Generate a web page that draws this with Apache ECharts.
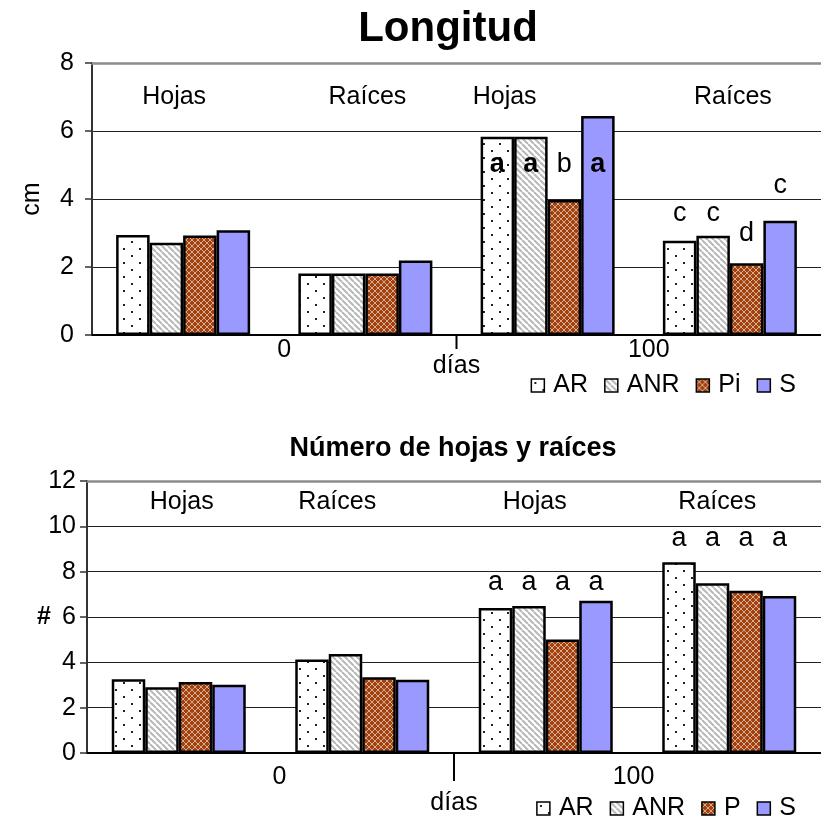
<!DOCTYPE html>
<html><head><meta charset="utf-8">
<script src="https://cdn.jsdelivr.net/npm/echarts@6/dist/echarts.min.js"></script>
<style>html,body{margin:0;padding:0;background:#fff}#c{width:821px;height:822px}</style>
</head><body><div id="c"></div>
<script>
// ---------- data ----------
const categories = ['Hojas', 'Raíces', 'Hojas', 'Raíces'];
const dayLabels = ['0', '100'];
const topTitle = 'Longitud';
const bottomTitle = 'Número de hojas y raíces';
const topSeriesNames = ['AR', 'ANR', 'Pi', 'S'];
const bottomSeriesNames = ['AR', 'ANR', 'P', 'S'];
const topYTicks = [0, 8, 2];      // min, max, interval
const bottomYTicks = [0, 12, 2];

const lenAR  = [2.94, 1.81, 5.83, 2.77];
const lenANR = [2.71, 1.81, 5.83, 2.92];
const lenPi  = [2.93, 1.81, 3.97, 2.11];
const lenS   = [3.08, 2.19, 6.44, 3.36];

const numAR  = [3.25, 4.13, 6.40, 8.41];
const numANR = [2.90, 4.37, 6.48, 7.49];
const numP   = [3.13, 3.34, 5.01, 7.16];
const numS   = [3.01, 3.23, 6.72, 6.93];

// significance letters and the value level where each letter sits
const lenLetAR  = ['', '', 'a', 'c'];  const lenLvlAR  = [null, null, 5.00, 3.57];
const lenLetANR = ['', '', 'a', 'c'];  const lenLvlANR = [null, null, 5.00, 3.57];
const lenLetPi  = ['', '', 'b', 'd'];  const lenLvlPi  = [null, null, 5.00, 2.98];
const lenLetS   = ['', '', 'a', 'c'];  const lenLvlS   = [null, null, 5.00, 4.39];

const numLetAR  = ['', '', 'a', 'a'];  const numLvlAR  = [null, null, 7.54, 9.48];
const numLetANR = ['', '', 'a', 'a'];  const numLvlANR = [null, null, 7.54, 9.48];
const numLetP   = ['', '', 'a', 'a'];  const numLvlP   = [null, null, 7.54, 9.48];
const numLetS   = ['', '', 'a', 'a'];  const numLvlS   = [null, null, 7.54, 9.48];

// ---------- patterns ----------
function tile(w, h, draw) {
  const c = document.createElement('canvas'); c.width = w; c.height = h;
  const g = c.getContext('2d'); draw(g, w, h); return c;
}
const dotTile = tile(16, 14, (g, w, h) => {
  g.fillStyle = '#fff'; g.fillRect(0, 0, w, h);
  g.fillStyle = '#222'; g.fillRect(3, 3, 2, 2); g.fillRect(11, 10, 2, 2);
});
const stripeTile = tile(6, 6, (g, w, h) => {
  g.fillStyle = '#fff'; g.fillRect(0, 0, w, h);
  g.strokeStyle = '#b8b8b8'; g.lineWidth = 2;
  for (let k = -6; k <= 6; k += 6) { g.beginPath(); g.moveTo(k, 0); g.lineTo(k + 6, 6); g.stroke(); }
});
const crossTile = tile(6, 6, (g, w, h) => {
  g.fillStyle = '#a2400f'; g.fillRect(0, 0, w, h);
  g.fillStyle = '#d7ad92';
  for (let i = 0; i < 6; i++) { g.fillRect(i, i, 1, 1); g.fillRect(5 - i, i, 1, 1); }
});
const fills = [
  { image: dotTile, repeat: 'repeat' },
  { image: stripeTile, repeat: 'repeat' },
  { image: crossTile, repeat: 'repeat' },
  '#9999ff'
];

// ---------- layout (styles only) ----------
const FONT = 'Liberation Sans, Arial, sans-serif';
const BAR_W = 33.5;
const topLabelShift = [-9, 2, -43, 3];
const bottomLabelShift = [3, -25, -11, -12];
const topDayShift = [10, 10];
const bottomDayShift = [9, -4];

function shiftPad(d) { return d < 0 ? [0, -2 * d, 0, 0] : [0, 0, 0, 2 * d]; }

function buildChart(gi, cfg) {
  const xAxes = [
    { // main category axis (bars)
      type: 'category', gridIndex: gi, data: categories, position: 'bottom',
      axisLine: { onZero: false, lineStyle: { color: '#000', width: 2 } },
      axisTick: { show: false },
      axisLabel: { show: false }, splitLine: { show: false }
    },
    { // top axis with group names (also hosts letter series)
      type: 'category', gridIndex: gi, data: categories.map((c, i) => ({ value: c, textStyle: { padding: shiftPad(cfg.labelShift[i]) } })),
      position: 'top',
      axisLine: { onZero: false, lineStyle: { color: '#8c8c8c', width: 2.5 } },
      axisTick: { show: false },
      axisLabel: { inside: true, margin: cfg.labelMargin, fontSize: 25, color: '#000', fontFamily: FONT }
    },
    { // day level axis
      type: 'category', gridIndex: gi, data: dayLabels.map((c, i) => ({ value: c, textStyle: { padding: shiftPad(cfg.dayShift[i]) } })),
      position: 'bottom',
      axisLine: { show: false, onZero: false }, axisTick: { show: false },
      axisLabel: { margin: cfg.dayMargin, fontSize: 25, color: '#000', fontFamily: FONT },
      name: 'días', nameLocation: 'middle', nameGap: cfg.diasGap, nameMoveOverlap: false,
      nameTextStyle: { fontSize: 25, color: '#000', fontFamily: FONT }
    }
  ];
  const yAxis = {
    type: 'value', gridIndex: gi, min: cfg.yTicks[0], max: cfg.yTicks[1], interval: cfg.yTicks[2],
    axisLine: { show: true, onZero: false, lineStyle: { color: '#333', width: 2 } },
    axisTick: { show: true, length: 7, lineStyle: { color: '#333', width: 1.5 } },
    axisLabel: { margin: cfg.yLabelMargin, fontSize: 25, color: '#000', fontFamily: FONT },
    splitLine: { lineStyle: { color: '#222', width: 1.2 } },
    name: cfg.yName, nameLocation: 'middle', nameGap: cfg.yNameGap, nameRotate: cfg.yNameRotate,
    nameMoveOverlap: false,
    nameTextStyle: { fontSize: cfg.yNameSize, fontWeight: cfg.yNameWeight, color: '#000', fontFamily: FONT }
  };
  const series = [];
  cfg.values.forEach((vals, k) => {
    series.push({
      type: 'bar', name: cfg.names[k], xAxisIndex: gi * 3, yAxisIndex: gi,
      data: vals, barWidth: BAR_W, barGap: '0%',
      itemStyle: { color: fills[k], borderColor: '#000', borderWidth: 2.5 },
      emphasis: { disabled: true }
    });
  });
  cfg.letters.forEach((lets, k) => {
    series.push({
      type: 'bar', name: 'let' + k, xAxisIndex: gi * 3 + 1, yAxisIndex: gi,
      data: cfg.levels[k], barWidth: BAR_W, barGap: '0%', silent: true,
      itemStyle: { color: 'rgba(0,0,0,0)', borderWidth: 0 },
      label: {
        show: true, position: 'top', distance: 0, verticalAlign: 'middle',
        formatter: (p) => {
          const t = lets[p.dataIndex];
          return (cfg.boldGroup === p.dataIndex && t === 'a') ? '{b|' + t + '}' : t;
        },
        fontSize: 27, color: '#000', fontFamily: FONT,
        rich: { b: { fontSize: 27, fontWeight: 'bold', fontFamily: FONT, color: '#000' } }
      },
      emphasis: { disabled: true }
    });
  });
  // divider tick between the two day groups (boundary between categories 1 and 2)
  const half = categories.length / 2;
  series.push({
    type: 'custom', name: 'divider', xAxisIndex: gi * 3, yAxisIndex: gi, silent: true, clip: false,
    data: [[half - 1, cfg.yTicks[0]]],
    renderItem: (params, api) => {
      const a = api.coord([half - 1, cfg.yTicks[0]]);
      const b = api.coord([half, cfg.yTicks[0]]);
      const x = (a[0] + b[0]) / 2;
      return { type: 'line', shape: { x1: x, y1: a[1], x2: x, y2: a[1] + cfg.divTick },
        style: { stroke: '#000', lineWidth: 2 } };
    }
  });
  return { xAxes, yAxis, series };
}

const topChart = buildChart(0, {
  yTicks: topYTicks, names: topSeriesNames, values: [lenAR, lenANR, lenPi, lenS],
  letters: [lenLetAR, lenLetANR, lenLetPi, lenLetS], levels: [lenLvlAR, lenLvlANR, lenLvlPi, lenLvlS],
  boldGroup: 2,
  labelShift: topLabelShift, labelMargin: 22, dayShift: topDayShift, dayMargin: 3, diasGap: 19,
  divTick: 14, yLabelMargin: 18, yName: 'cm', yNameGap: 47, yNameRotate: 90, yNameSize: 25, yNameWeight: 'normal'
});
const bottomChart = buildChart(1, {
  yTicks: bottomYTicks, names: bottomSeriesNames, values: [numAR, numANR, numP, numS],
  letters: [numLetAR, numLetANR, numLetP, numLetS], levels: [numLvlAR, numLvlANR, numLvlP, numLvlS],
  boldGroup: -1,
  labelShift: bottomLabelShift, labelMargin: 9, dayShift: bottomDayShift, dayMargin: 12, diasGap: 38,
  divTick: 28, yLabelMargin: 11, yName: '#', yNameGap: 36, yNameRotate: 0, yNameSize: 25, yNameWeight: 'bold'
});

const legendCommon = {
  icon: 'rect', itemWidth: 13, itemHeight: 13, itemGap: 16,
  textStyle: { fontSize: 25, color: '#000', fontFamily: FONT, padding: [0, 0, 0, 4] },
  itemStyle: { borderColor: '#000', borderWidth: 1.5 }, selectedMode: false
};

const option = {
  animation: false,
  backgroundColor: '#fff',
  title: [
    { text: topTitle, left: 443, top: 3, textAlign: 'center', textStyle: { fontSize: 42, fontWeight: 'bold', color: '#000', fontFamily: FONT } },
    { text: bottomTitle, left: 448, top: 430, textAlign: 'center', textStyle: { fontSize: 27, fontWeight: 'bold', color: '#000', fontFamily: FONT } }
  ],
  grid: [
    { left: 92, top: 63, width: 732, height: 272 },
    { left: 87, top: 481, width: 736, height: 272 }
  ],
  legend: [
    Object.assign({ data: topSeriesNames, right: 20, top: 368 }, legendCommon),
    Object.assign({ data: bottomSeriesNames, right: 20, top: 791 }, legendCommon)
  ],
  xAxis: topChart.xAxes.concat(bottomChart.xAxes),
  yAxis: [topChart.yAxis, bottomChart.yAxis],
  series: topChart.series.concat(bottomChart.series)
};

const chart = echarts.init(document.getElementById('c'), null, { renderer: 'canvas' });
chart.setOption(option);
</script></body></html>
